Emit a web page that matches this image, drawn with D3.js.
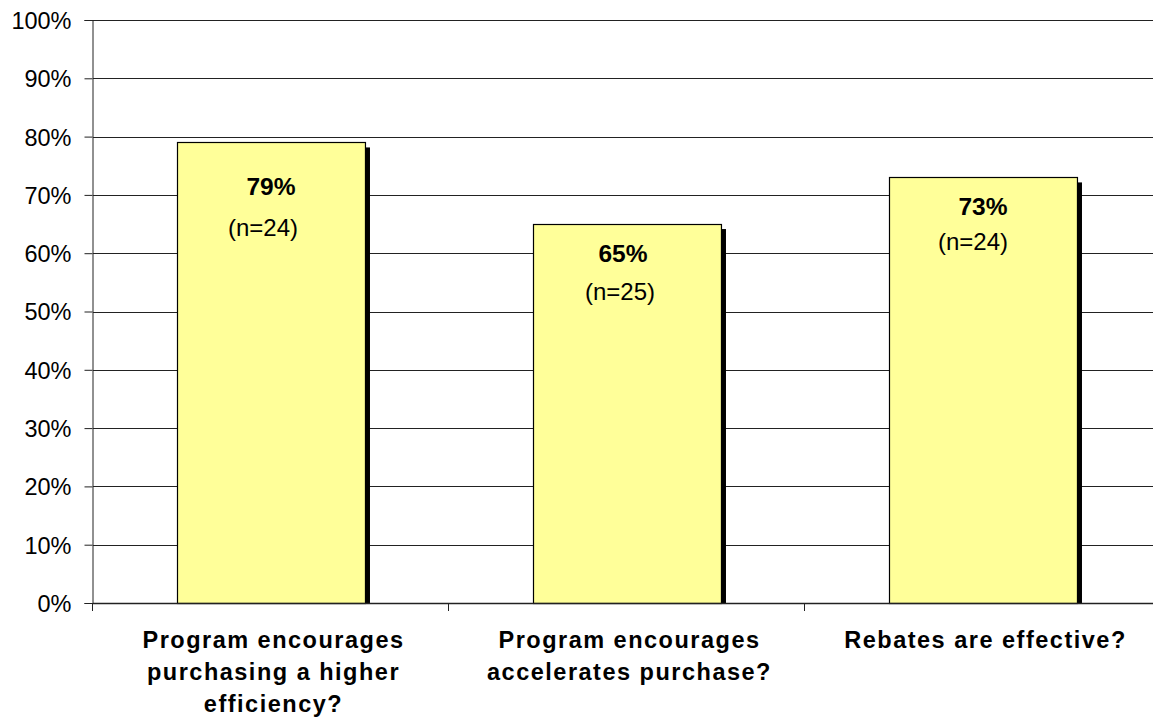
<!DOCTYPE html>
<html>
<head>
<meta charset="utf-8">
<script src="https://cdn.jsdelivr.net/npm/d3@7/dist/d3.min.js"></script>
<style>
  html, body { margin: 0; padding: 0; background: #fff; }
  svg { display: block; font-family: "Liberation Sans", Arial, sans-serif; }
</style>
</head>
<body>
<svg id="chart" width="1153" height="719"></svg>
<script>
// Survey responses: share answering yes, with sample sizes
const categories = [
  ["Program encourages", "purchasing a higher", "efficiency?"],
  ["Program encourages", "accelerates purchase?"],
  ["Rebates are effective?"]
];
const values = [0.79, 0.65, 0.73];
const sampleSizes = [24, 25, 24];
const yTicks = [0, 0.1, 0.2, 0.3, 0.4, 0.5, 0.6, 0.7, 0.8, 0.9, 1.0];

const svg = d3.select("#chart");
const margin = { left: 93, top: 20, right: -8, bottom: 116 };
const W = 1153, H = 719;
const x0 = margin.left, x1 = W - margin.right;
const yTop = margin.top, yBot = H - margin.bottom;

const x = d3.scaleBand().domain(d3.range(values.length)).range([x0, x1]).paddingInner(0).paddingOuter(0);
const y = d3.scaleLinear().domain([0, 1]).range([yBot, yTop]);
const barW = x.bandwidth() * 0.528;
const shadow = 5;

// Horizontal gridlines
svg.append("g").selectAll("line").data(yTicks.filter(d => d > 0)).join("line")
  .attr("x1", x0).attr("x2", W).attr("y1", d => Math.round(y(d)) + 0.5).attr("y2", d => Math.round(y(d)) + 0.5)
  .attr("stroke", "#222").attr("stroke-width", 1);

// Y axis
const yAxis = d3.axisLeft(y).tickValues(yTicks).tickFormat(d3.format(".0%")).tickSize(8).tickPadding(13);
const gy = svg.append("g").attr("transform", `translate(${x0 - 0.5},0)`).call(yAxis);
gy.attr("font-size", null).attr("font-family", null);
gy.select(".domain").attr("stroke", "#222");
gy.selectAll(".tick line").attr("stroke", "#222");
gy.selectAll(".tick text").style("font-size", "23.5px").attr("fill", "#000").attr("dy", "0.36em");

// Bars with drop shadow
const bars = svg.append("g").selectAll("g").data(values).join("g");
bars.append("rect")
  .attr("x", (d, i) => x(i) + (x.bandwidth() - barW) / 2 + shadow)
  .attr("y", d => y(d) + shadow)
  .attr("width", barW).attr("height", d => yBot - y(d) - shadow)
  .attr("fill", "#000");
bars.append("rect")
  .attr("x", (d, i) => Math.round(x(i) + (x.bandwidth() - barW) / 2) + 0.5)
  .attr("y", d => Math.round(y(d)) + 0.5)
  .attr("width", barW).attr("height", d => yBot - Math.round(y(d)))
  .attr("fill", "#FFFF99").attr("stroke", "#000").attr("stroke-width", 1.2);

// Value and sample-size labels (offsets from the bar top / centre)
const valueDrop = [52.5, 38, 37.5];
const valueShift = [0, -4, 0];
const countDrop = [93.5, 76, 72.5];
const countShift = [-8, -7, -10];
bars.append("text")
  .attr("x", (d, i) => x(i) + x.bandwidth() / 2 + valueShift[i])
  .attr("y", (d, i) => y(d) + valueDrop[i])
  .attr("text-anchor", "middle").style("font-size", "24.5px").attr("font-weight", "bold")
  .text(d => d3.format(".0%")(d));
bars.append("text")
  .attr("x", (d, i) => x(i) + x.bandwidth() / 2 + countShift[i])
  .attr("y", (d, i) => y(d) + countDrop[i])
  .attr("text-anchor", "middle").style("font-size", "24px")
  .text((d, i) => `(n=${sampleSizes[i]})`);

// X axis baseline and category separators
svg.append("line").attr("x1", x0).attr("x2", W).attr("y1", yBot + 0.5).attr("y2", yBot + 0.5)
  .attr("stroke", "#222").attr("stroke-width", 1.5);
svg.append("g").selectAll("line").data(d3.range(values.length + 1)).join("line")
  .attr("x1", i => Math.round(i < values.length ? x(i) : x1) - 0.5)
  .attr("x2", i => Math.round(i < values.length ? x(i) : x1) - 0.5)
  .attr("y1", yBot).attr("y2", yBot + 8).attr("stroke", "#222");

// Category labels
const cat = svg.append("g").selectAll("text").data(categories).join("text")
  .attr("text-anchor", "middle").style("font-size", "23.5px").attr("font-weight", "bold")
  .attr("letter-spacing", 1.5)
  .attr("x", (d, i) => x(i) + x.bandwidth() / 2 + 2.5)
  .attr("y", 648);
cat.selectAll("tspan").data(d => d).join("tspan")
  .attr("x", function () { return d3.select(this.parentNode).attr("x"); })
  .attr("dy", (d, j) => j === 0 ? 0 : 32)
  .text(d => d);
</script>
</body>
</html>
